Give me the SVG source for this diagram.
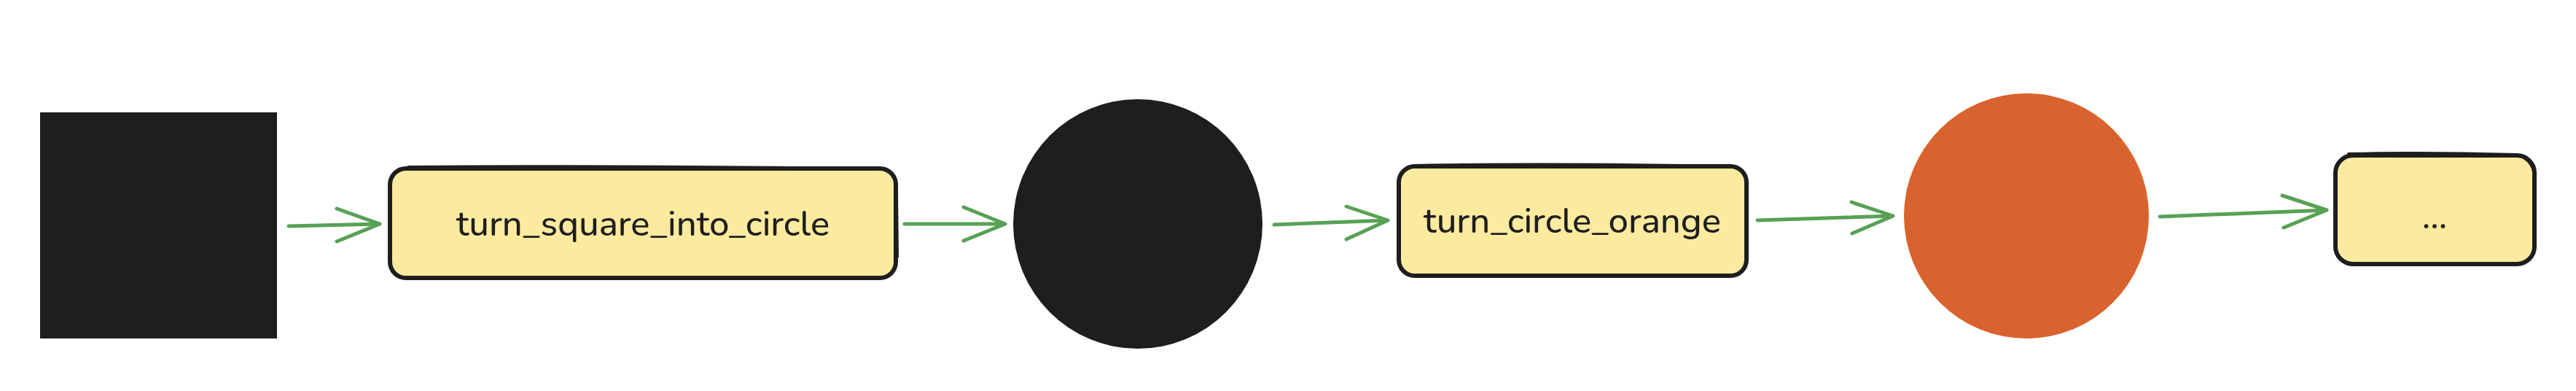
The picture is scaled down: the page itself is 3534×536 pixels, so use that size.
<svg xmlns="http://www.w3.org/2000/svg" width="3534" height="536" viewBox="0 0 3534 536">
<style>
.box{fill:#fcea9f;stroke:#1e1e1e;stroke-width:6;stroke-linejoin:round}
.sk{fill:none;stroke:#1e1e1e;stroke-width:4;stroke-linecap:round}
.lbl{font-family:"Nunito","Noto Sans","Open Sans",sans-serif;font-size:49px;font-weight:500;fill:#1e1e1e;text-anchor:middle;dominant-baseline:central}
.ar{fill:none;stroke:#58a155;stroke-width:5;stroke-linecap:round;stroke-linejoin:round}
</style>
<rect width="3534" height="536" fill="#ffffff"/>
<g id="square">
<rect x="55" y="154" width="325" height="310" fill="#1e1e1e"/>
</g>
<g id="turn_square_into_circle">
<rect class="box" x="535" y="231" width="694" height="150" rx="22"/>
<path class="sk" d="M560 229 C760 227 1000 229 1208 231 C1224 233 1231 244 1230 262 L1231 352"/>
<text class="lbl" x="882" y="306">turn_square_into_circle</text>
</g>
<g id="circle">
<ellipse cx="1561" cy="307" rx="171" ry="171" fill="#1e1e1e"/>
</g>
<g id="turn_circle_orange">
<rect class="box" x="1919" y="228" width="477" height="150" rx="22"/>
<path class="sk" d="M1940 227 C2100 224 2260 226 2376 228 C2390 230 2397 242 2396 258"/>
<text class="lbl" x="2157" y="302">turn_circle_orange</text>
</g>
<g id="orange_circle">
<ellipse cx="2780" cy="296" rx="168" ry="168" fill="#d9632e"/>
</g>
<g id="ellipsis">
<rect class="box" x="3204" y="213" width="273" height="149" rx="24"/>
<path class="sk" d="M3222 211 C3300 209 3380 210 3452 212 C3470 216 3478 230 3478 250"/>
<text class="lbl" x="3340" y="296">...</text>
</g>
<g id="connectors">
<path class="ar" d="M396 310 L521 307 M462 286 L521 307 L462 331"/>
<path class="ar" d="M1241 307 L1379 307 M1322 284 L1379 307 L1322 330"/>
<path class="ar" d="M1748 308 L1904 302 M1847 283 L1904 302 L1847 328"/>
<path class="ar" d="M2411 302 L2597 296 M2540 277 L2597 296 L2541 320"/>
<path class="ar" d="M2963 297 L3192 288 M3131 268 L3192 288 L3133 312"/>
</g>
</svg>
